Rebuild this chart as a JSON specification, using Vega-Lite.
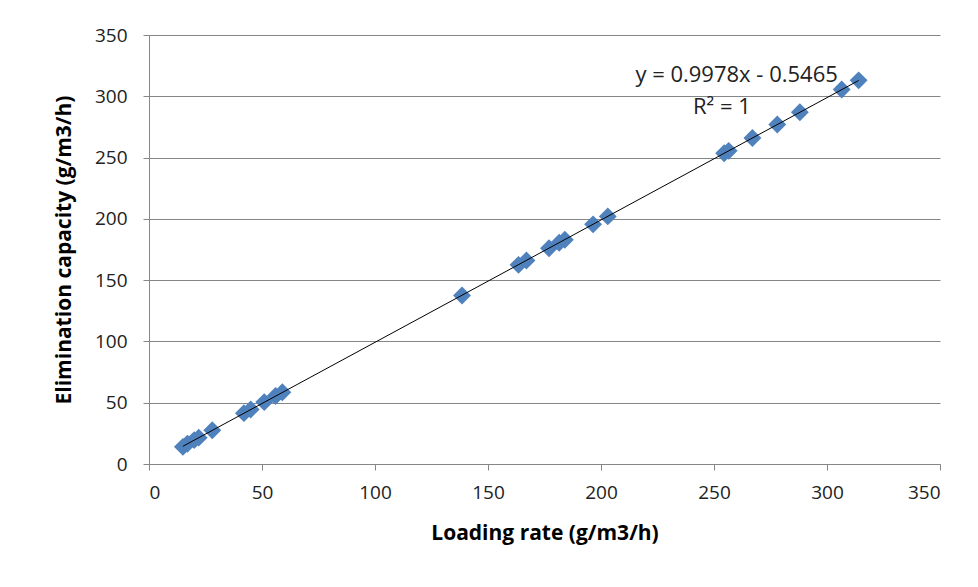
{
  "$schema": "https://vega.github.io/schema/vega-lite/v6.json",
  "width": 791,
  "height": 429,
  "autosize": "none",
  "padding": {"left": 149, "top": 35, "right": 38, "bottom": 123},
  "background": "white",
  "config": {
    "view": {"stroke": null},
    "font": "Open Sans",
    "axis": {
      "labelFont": "Open Sans",
      "titleFont": "Open Sans",
      "labelFontSize": 19,
      "labelColor": "#222222",
      "titleFontSize": 21,
      "titleFontWeight": "bold",
      "titleColor": "#000000",
      "domainColor": "#868686",
      "tickColor": "#868686",
      "gridColor": "#868686",
      "tickSize": 6
    }
  },
  "datasets": {
    "pts": [
      {"lr": 15, "ec": 14},
      {"lr": 17, "ec": 16.5},
      {"lr": 20, "ec": 19.5},
      {"lr": 22, "ec": 21.5},
      {"lr": 28, "ec": 27.5},
      {"lr": 42, "ec": 41.5},
      {"lr": 45, "ec": 44.5},
      {"lr": 51, "ec": 50.5},
      {"lr": 56, "ec": 55.5},
      {"lr": 59, "ec": 58.5},
      {"lr": 138.5, "ec": 137.5},
      {"lr": 163.5, "ec": 162.5},
      {"lr": 167, "ec": 166},
      {"lr": 177, "ec": 176},
      {"lr": 181.5, "ec": 180.5},
      {"lr": 184, "ec": 183},
      {"lr": 196.5, "ec": 195.5},
      {"lr": 203, "ec": 202},
      {"lr": 254.5, "ec": 253.5},
      {"lr": 256.5, "ec": 255.5},
      {"lr": 267, "ec": 266},
      {"lr": 278, "ec": 277},
      {"lr": 288, "ec": 287},
      {"lr": 306.5, "ec": 305.5},
      {"lr": 314, "ec": 313}
    ],
    "labels": [
      {"lr": 260, "ec": 317, "txt": "y = 0.9978x - 0.5465"},
      {"lr": 253.5, "ec": 291, "txt": "R² = 1"}
    ]
  },
  "layer": [
    {
      "data": {"name": "pts"},
      "mark": {"type": "point", "shape": "diamond", "filled": true, "size": 320, "color": "#4F81BD", "opacity": 1},
      "encoding": {
        "x": {
          "field": "lr", "type": "quantitative",
          "scale": {"domain": [0, 350], "nice": false, "zero": true},
          "axis": {"values": [0, 50, 100, 150, 200, 250, 300, 350], "grid": false, "title": "Loading rate (g/m3/h)", "labelPadding": 13, "titlePadding": 20}
        },
        "y": {
          "field": "ec", "type": "quantitative",
          "scale": {"domain": [0, 350], "nice": false},
          "axis": {"values": [0, 50, 100, 150, 200, 250, 300, 350], "grid": true, "title": "Elimination capacity (g/m3/h)", "labelPadding": 16, "titlePadding": 20}
        }
      }
    },
    {
      "data": {"name": "pts"},
      "transform": [{"regression": "ec", "on": "lr"}],
      "mark": {"type": "line", "color": "#000000", "strokeWidth": 1},
      "encoding": {
        "x": {"field": "lr", "type": "quantitative"},
        "y": {"field": "ec", "type": "quantitative"}
      }
    },
    {
      "data": {"name": "labels"},
      "mark": {"type": "text", "font": "Open Sans", "fontSize": 22, "color": "#222222", "align": "center", "baseline": "middle"},
      "encoding": {
        "x": {"field": "lr", "type": "quantitative"},
        "y": {"field": "ec", "type": "quantitative"},
        "text": {"field": "txt"}
      }
    }
  ]
}
